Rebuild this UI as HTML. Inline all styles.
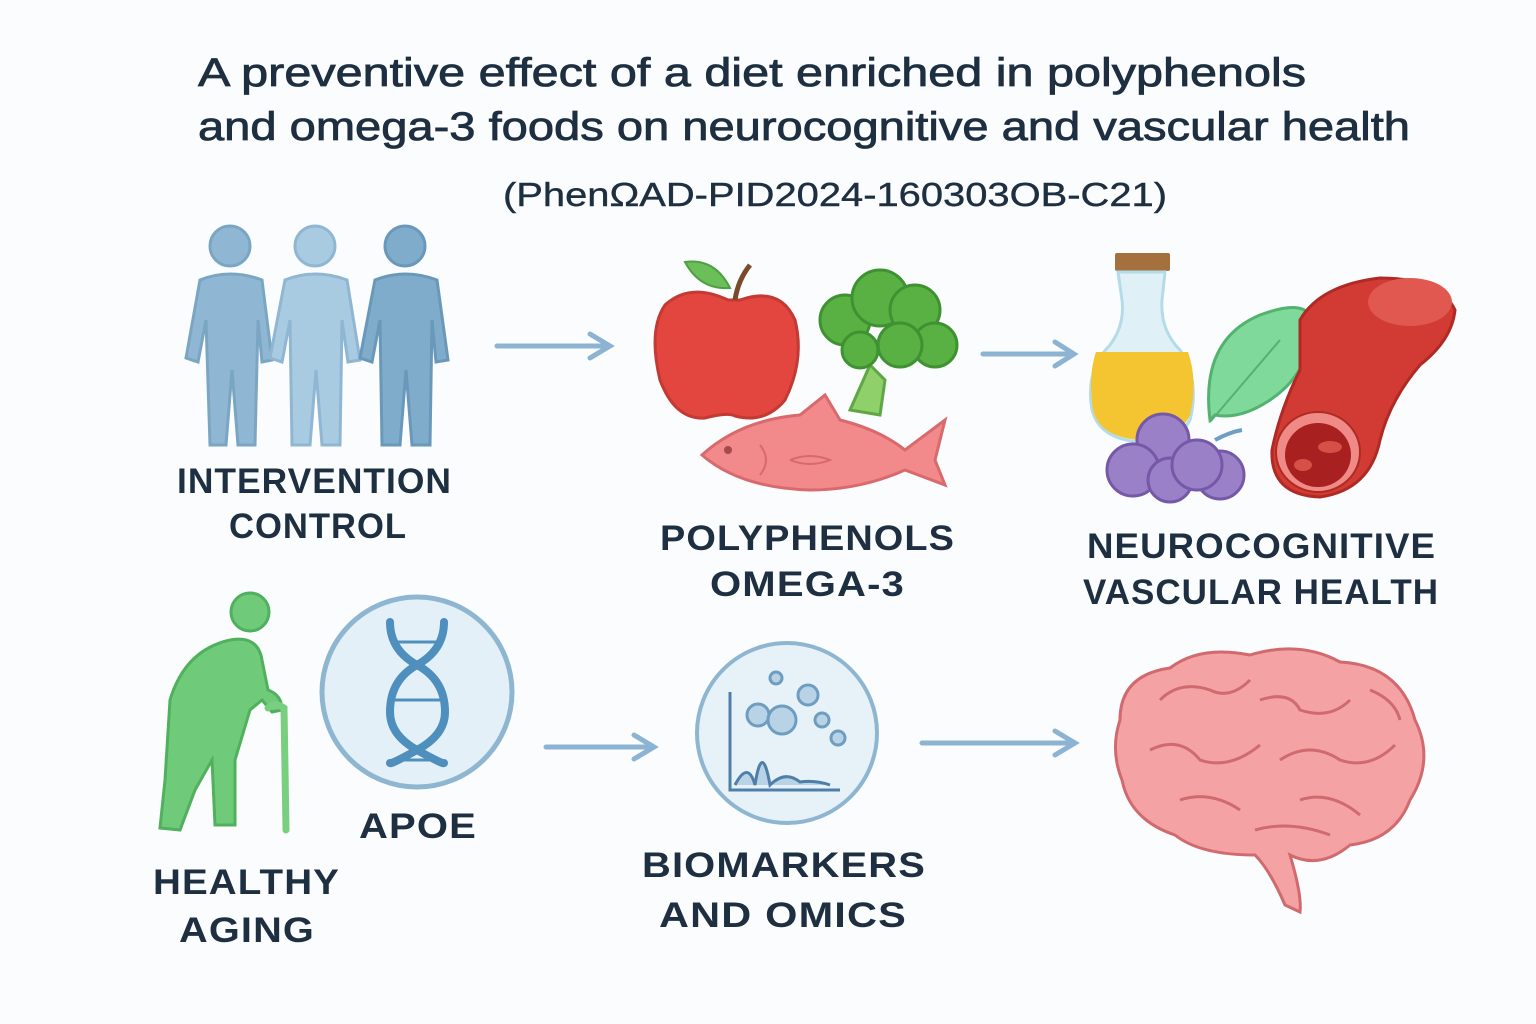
<!DOCTYPE html>
<html><head><meta charset="utf-8"><style>
html,body{margin:0;padding:0;background:#fbfcfd;}
svg{display:block}
text{font-family:"Liberation Sans",sans-serif;fill:#1d2f40}
.t{font-size:40px;font-weight:normal;stroke:#1d2f40;stroke-width:0.8px}
.l{font-size:35px;font-weight:bold;letter-spacing:1px}
</style></head><body>
<svg width="1536" height="1024" viewBox="0 0 1536 1024">
<rect width="1536" height="1024" fill="#fbfcfd"/>
<text class="t" x="198" y="86" textLength="1108" lengthAdjust="spacingAndGlyphs">A preventive effect of a diet enriched in polyphenols</text>
<text class="t" x="198" y="140" textLength="1212" lengthAdjust="spacingAndGlyphs">and omega-3 foods on neurocognitive and vascular health</text>
<text x="503" y="206" style="font-size:33px;stroke:#1d2f40;stroke-width:0.4px" textLength="664" lengthAdjust="spacingAndGlyphs">(PhenΩAD-PID2024-160303OB-C21)</text>

<!-- people -->
<g stroke-width="3">
<g fill="#8fb7d3" stroke="#7aa6c4">
<circle cx="230" cy="246" r="20"/>
<path d="M200 280 Q230 268 262 280 L272 360 L262 362 L258 320 L255 445 L238 445 L232 370 L226 445 L210 445 L206 320 L198 362 L186 358 Z"/>
</g>
<g fill="#a9cbe2" stroke="#8fb6d2">
<circle cx="315" cy="246" r="20"/>
<path d="M285 280 Q315 268 347 280 L360 360 L348 362 L342 320 L340 445 L322 445 L316 370 L310 445 L292 445 L290 320 L282 362 L270 358 Z"/>
</g>
<g fill="#7faccb" stroke="#6a98ba">
<circle cx="405" cy="246" r="20"/>
<path d="M375 280 Q405 268 437 280 L448 360 L436 362 L432 320 L430 445 L412 445 L406 370 L400 445 L382 445 L380 320 L372 362 L360 358 Z"/>
</g>
</g>
<text class="l" x="177" y="493" textLength="275" lengthAdjust="spacingAndGlyphs">INTERVENTION</text>
<text class="l" x="229" y="538" textLength="178" lengthAdjust="spacingAndGlyphs">CONTROL</text>

<!-- arrows -->
<g stroke="#8cb4d2" stroke-width="5" fill="none" stroke-linecap="round">
<path d="M497 346 L608 346 M590 334 L610 346 L590 358"/>
<path d="M983 354 L1072 354 M1055 342 L1074 354 L1055 366"/>
<path d="M546 747 L652 747 M634 735 L654 747 L634 759"/>
<path d="M922 743 L1072 743 M1055 731 L1075 743 L1055 755"/>
</g>

<!-- apple -->
<path d="M728 300 Q690 282 665 305 Q648 330 660 380 Q675 420 705 418 Q728 412 735 416 Q765 424 785 400 Q805 360 795 320 Q780 286 740 300 Z" fill="#e2463e" stroke="#c23a33" stroke-width="3"/>
<path d="M735 300 Q738 280 750 265" stroke="#7a4a2a" stroke-width="5" fill="none"/>
<path d="M730 288 Q700 290 685 262 Q715 258 730 288 Z" fill="#6cbf58" stroke="#4fa042" stroke-width="2"/>
<!-- broccoli -->
<path d="M850 410 L870 365 L885 380 L880 415 Z" fill="#8fd06a" stroke="#5ea745" stroke-width="3"/>
<g fill="#59b043" stroke="#3f9232" stroke-width="3">
<circle cx="845" cy="320" r="25"/><circle cx="880" cy="298" r="28"/><circle cx="915" cy="310" r="25"/><circle cx="935" cy="345" r="22"/><circle cx="900" cy="345" r="22"/><circle cx="860" cy="350" r="18"/>
</g>
<!-- fish -->
<path d="M702 455 Q740 420 800 415 L825 395 L840 420 Q880 430 905 450 L945 420 L935 460 L945 485 L905 470 Q860 490 810 490 Q740 488 702 455 Z" fill="#f2898b" stroke="#d86a6d" stroke-width="3"/>
<circle cx="728" cy="450" r="4" fill="#a84848"/>
<path d="M760 445 Q772 460 760 475 M790 460 Q810 452 830 460 Q810 468 790 460" stroke="#d86a6d" stroke-width="2" fill="none"/>
<text class="l" x="660" y="550" textLength="295" lengthAdjust="spacingAndGlyphs">POLYPHENOLS</text>
<text class="l" x="710" y="596" textLength="195" lengthAdjust="spacingAndGlyphs">OMEGA-3</text>

<!-- oil bottle -->
<rect x="1115" y="253" width="55" height="18" fill="#a3703e" rx="2"/>
<path d="M1118 272 L1165 272 L1162 300 Q1160 330 1180 350 Q1200 380 1190 420 Q1180 440 1142 442 Q1100 440 1092 410 Q1085 370 1110 345 Q1125 325 1122 300 Z" fill="#dff0f6" stroke="#b3dbe8" stroke-width="3"/>
<path d="M1096 352 L1188 352 Q1198 380 1190 415 Q1180 438 1142 440 Q1100 438 1093 410 Q1088 375 1096 352 Z" fill="#f4c431"/>
<!-- leaf -->
<path d="M1210 420 Q1200 340 1260 315 Q1300 300 1310 315 Q1315 370 1270 400 Q1240 420 1215 415 Z" fill="#7fd99a" stroke="#52b370" stroke-width="3"/>
<path d="M1210 422 L1280 340" stroke="#52b370" stroke-width="2"/>
<!-- grapes -->
<path d="M1215 440 Q1230 432 1242 430" stroke="#6f9ec4" stroke-width="4" fill="none"/>
<g fill="#9a80c7" stroke="#7558a8" stroke-width="3">
<circle cx="1163" cy="440" r="26"/><circle cx="1133" cy="470" r="26"/><circle cx="1170" cy="480" r="22"/><circle cx="1220" cy="475" r="24"/><circle cx="1197" cy="465" r="25"/>
</g>
<!-- vessel -->
<path d="M1300 320 Q1320 285 1380 278 Q1440 278 1455 310 Q1452 340 1420 365 Q1390 400 1380 440 Q1370 490 1320 497 Q1270 495 1272 450 Q1280 410 1300 370 Z" fill="#d23b33" stroke="#b02a25" stroke-width="3"/>
<ellipse cx="1410" cy="302" rx="42" ry="24" fill="#e05850"/>
<ellipse cx="1318" cy="452" rx="42" ry="40" fill="#f08a86" stroke="#b02a25" stroke-width="2"/>
<ellipse cx="1318" cy="455" rx="33" ry="32" fill="#a8201f"/>
<ellipse cx="1330" cy="447" rx="12" ry="6" fill="#d65048"/>
<ellipse cx="1303" cy="465" rx="9" ry="6" fill="#d65048"/>
<text class="l" x="1087" y="558" textLength="349" lengthAdjust="spacingAndGlyphs">NEUROCOGNITIVE</text>
<text class="l" x="1083" y="604" textLength="356" lengthAdjust="spacingAndGlyphs">VASCULAR HEALTH</text>

<!-- elderly -->
<g fill="#6fcb7a" stroke="#4fb05d" stroke-width="3">
<circle cx="250" cy="612" r="19"/>
<path d="M230 640 Q258 635 262 660 L268 690 Q282 695 282 710 L272 712 L262 700 L250 710 L235 760 L235 825 L215 825 L212 760 L195 790 L180 830 L160 828 L165 780 L170 700 Q185 650 230 640 Z"/>
</g>
<path d="M268 708 Q275 702 284 708 L286 830" stroke="#78cf80" stroke-width="7" fill="none" stroke-linecap="round"/>
<text class="l" x="153" y="894" textLength="187" lengthAdjust="spacingAndGlyphs">HEALTHY</text>
<text class="l" x="179" y="942" textLength="136" lengthAdjust="spacingAndGlyphs">AGING</text>

<!-- APOE -->
<circle cx="417" cy="692" r="95" fill="#e4f0f7" stroke="#8fb6d0" stroke-width="5"/>
<g stroke="#4f8fbd" stroke-width="8" fill="none" stroke-linecap="round">
<path d="M390 622 Q390 650 417 665 Q445 680 445 712 Q445 735 417 750 Q390 765 390 763"/>
<path d="M444 622 Q444 650 417 665 Q390 680 390 712 Q390 735 417 750 Q444 765 444 763"/>
</g>
<g stroke="#4f8fbd" stroke-width="3"><path d="M398 642 H436 M395 700 H440 M398 760 H436"/></g>
<text class="l" x="359" y="838" textLength="118" lengthAdjust="spacingAndGlyphs">APOE</text>

<!-- biomarkers -->
<circle cx="787" cy="733" r="90" fill="#e6f1f8" stroke="#8fb6d0" stroke-width="4"/>
<path d="M730 692 V790 H840" stroke="#4f7fa8" stroke-width="3" fill="none"/>
<path d="M735 785 Q748 760 755 785 Q762 740 770 785 Q785 770 800 782 Q815 780 830 785" stroke="#4f7fa8" stroke-width="3" fill="#b9d3e6"/>
<g fill="#b9d3e6" stroke="#6e9dc0" stroke-width="3">
<circle cx="758" cy="715" r="11"/><circle cx="782" cy="720" r="14"/><circle cx="808" cy="695" r="10"/><circle cx="822" cy="720" r="7"/><circle cx="776" cy="678" r="6"/><circle cx="838" cy="738" r="7"/>
</g>
<text class="l" x="642" y="877" textLength="284" lengthAdjust="spacingAndGlyphs">BIOMARKERS</text>
<text class="l" x="659" y="927" textLength="248" lengthAdjust="spacingAndGlyphs">AND OMICS</text>

<!-- brain -->
<path d="M1120 720 Q1120 675 1170 668 Q1200 645 1250 655 Q1300 640 1340 662 Q1400 665 1415 720 Q1435 760 1410 800 Q1395 840 1350 845 Q1320 870 1290 855 Q1302 895 1300 912 L1285 905 Q1270 870 1255 855 Q1200 855 1175 835 Q1130 820 1122 780 Q1110 750 1120 720 Z" fill="#f4a2a3" stroke="#d06a6e" stroke-width="3"/>
<g stroke="#d06a6e" stroke-width="3" fill="none">
<path d="M1160 700 Q1180 680 1210 690 Q1230 700 1250 680 M1260 700 Q1290 690 1300 710 Q1330 720 1350 700 M1150 750 Q1180 735 1200 760 Q1230 770 1260 745 M1280 760 Q1310 740 1340 760 Q1370 770 1395 745 M1180 800 Q1210 790 1240 810 M1300 800 Q1330 790 1360 815 M1370 690 Q1395 700 1400 720 M1255 830 Q1290 820 1330 835"/>
</g>
</svg>
</body></html>
